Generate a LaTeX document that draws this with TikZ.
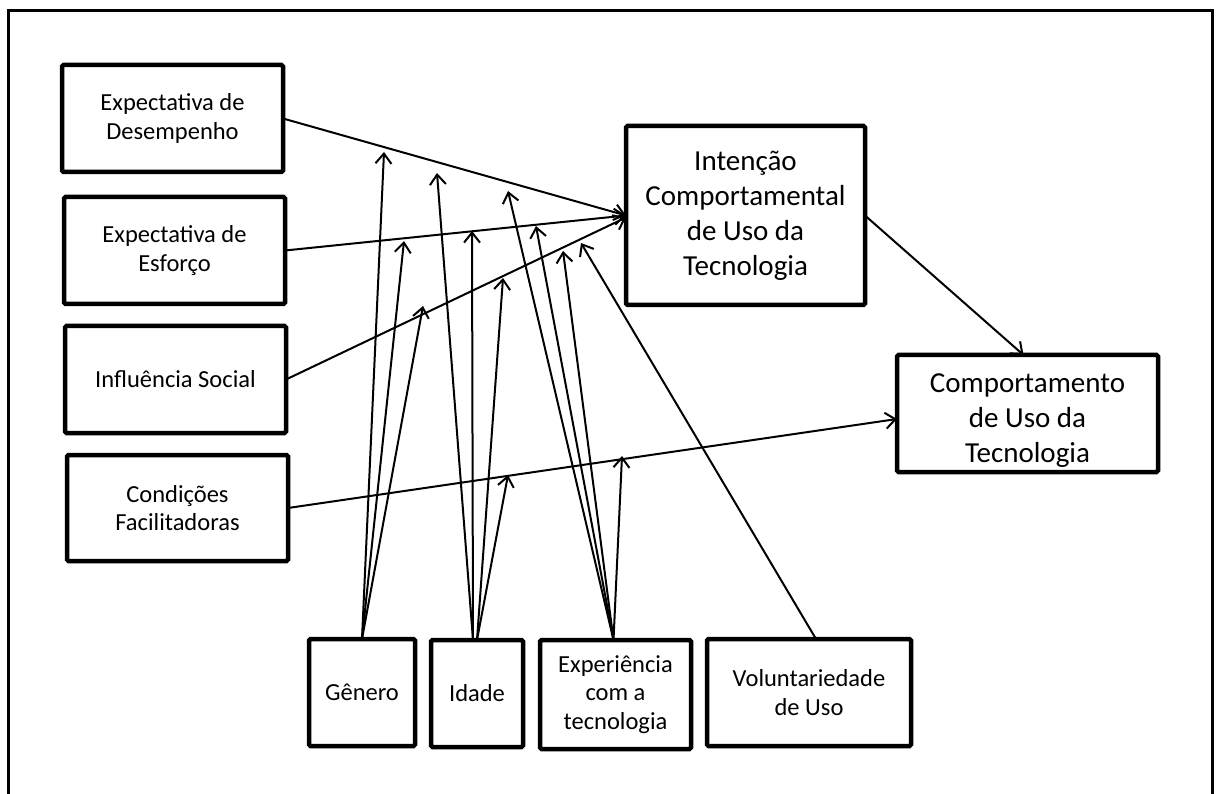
\documentclass[tikz,border=0pt]{standalone}
\usepackage{fontspec}
\setmainfont{Carlito}
\usetikzlibrary{arrows.meta}
\newcommand\tfsmall{\fontsize{24.5}{28.5}\selectfont}
\newcommand\tfbig{\fontsize{29}{35}\selectfont}
\tikzset{
  box/.style={draw, line width=4.5pt, rounded corners=1.5pt, inner sep=0pt,
              outer sep=0pt, align=center, font=\tfsmall},
  bigbox/.style={box, font=\tfbig},
  boxtext/.style={inner sep=0pt, align=center, font=\tfbig},
  conn/.style={line width=2pt, -{Straight Barb[length=10pt,width=16pt]}},
  frame/.style={line width=3pt}
}
\begin{document}
\begin{tikzpicture}[x=1pt, y=-1pt]
\useasboundingbox (0,0) rectangle (1216,794);

% outer frame, open at the bottom
\draw[frame] (8.5,794) -- (8.5,10.5) -- (1212.5,10.5) -- (1212.5,794);

% determinants
\node[box, minimum width=221pt, minimum height=107pt] (ed) at (172.5,118.5) {Expectativa de\\Desempenho};
\node[box, minimum width=221pt, minimum height=107pt] (ee) at (174.5,250.5) {Expectativa de\\Esforço};
\node[box, minimum width=221pt, minimum height=107pt] (is) at (175.5,379.5) {Influência Social};
\node[box, minimum width=221pt, minimum height=106pt] (cf) at (177.5,508) {Condições\\Facilitadoras};

% intention and behaviour
\node[bigbox, minimum width=239pt, minimum height=179pt] (int) at (745.5,215.5) {Intenção\\Comportamental\\de Uso da\\Tecnologia};
\node[bigbox, minimum width=261pt, minimum height=117pt] (comp) at (1027.5,413.5) {};
\node[boxtext] (comptext) at ([yshift=-7pt]comp.center) {Comportamento\\de Uso da\\Tecnologia};

% moderators
\node[box, minimum width=106pt, minimum height=107pt] (gen) at (362,692.5) {Gênero};
\node[box, minimum width=92pt, minimum height=107pt] (ida) at (477,693.5) {Idade};
\node[box, minimum width=151pt, minimum height=109pt] (exp) at (615.5,694.5) {Experiência\\com a\\tecnologia};
\node[box, minimum width=204pt, minimum height=107pt] (vol) at (809,692.5) {Voluntariedade\\de Uso};

% main paths
\draw[conn] (ed.east) -- (int.west);
\draw[conn] (ee.east) -- (int.west);
\draw[conn] (is.east) -- ([yshift=-2pt]int.west);
\draw[conn] (cf.east) -- ([yshift=-5.5pt]comp.west);
\draw[conn] (int.east) -- ([xshift=-4pt]comp.north);

% ends of the moderating arrows on the paths
\coordinate (g1) at (384,152);
\coordinate (g2) at (404,241);
\coordinate (g3) at (423,306);
\coordinate (i1) at (437,173);
\coordinate (i2) at (472,231);
\coordinate (i3) at (503,278);
\coordinate (i4) at (508,475);
\coordinate (e1) at (508,191);
\coordinate (e2) at (536,226);
\coordinate (e3) at (563,251);
\coordinate (e4) at (622,456);
\coordinate (v1) at (581,243);

% moderating arrows
\draw[conn] (gen.north) -- (g1);
\draw[conn] (gen.north) -- (g2);
\draw[conn] (gen.north) -- (g3);
\draw[conn] ([xshift=-4pt]ida.north) -- (i1);
\draw[conn] ([xshift=-4pt]ida.north) -- (i2);
\draw[conn] (ida.north) -- (i3);
\draw[conn] (ida.north) -- (i4);
\draw[conn] ([xshift=-2pt]exp.north) -- (e1);
\draw[conn] ([xshift=-2pt]exp.north) -- (e2);
\draw[conn] ([xshift=-2pt]exp.north) -- (e3);
\draw[conn] ([xshift=-2pt]exp.north) -- (e4);
\draw[conn] ([xshift=7pt]vol.north) -- (v1);
\end{tikzpicture}
\end{document}
